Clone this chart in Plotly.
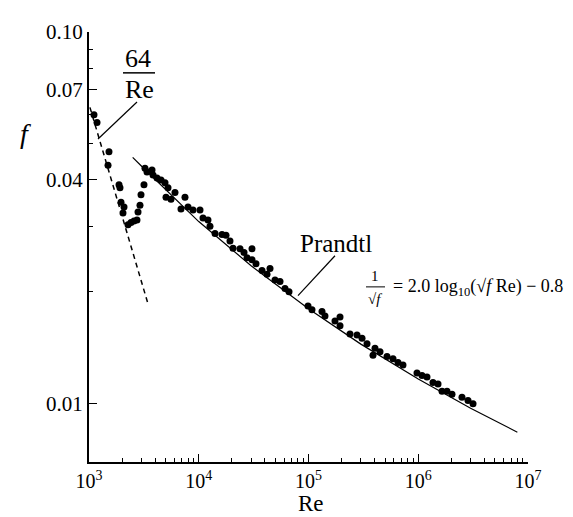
import plotly.graph_objects as go

# ---- data ----
data_re = [1110, 1183, 1521, 1490, 1877, 1916, 1957, 2084, 2040, 2267, 2413, 2570, 2737, 2796,
           2915, 2977, 3170, 3237, 3377, 3750, 3830, 4165, 4530, 4926, 5246, 6075, 7492, 5030,
           5587, 6890, 7983, 8862, 10265, 10930, 12140, 12660, 14070, 16290, 17710, 19260,
           20520, 23760, 25840, 30560, 27520, 30560, 33230, 37700, 44600, 41880, 49530, 55000,
           61080, 66430, 98950, 107600, 132700, 141300, 174300, 193700, 193700, 238800, 276700,
           307300, 341300, 403600, 387000, 448200, 519300, 588900, 654000, 726100, 974000,
           1082000, 1201000, 1362000, 1514000, 1646000, 1828000, 2030000, 2503000, 2840000,
           3155000]
data_f = [0.0599, 0.0571, 0.0476, 0.0438, 0.0388, 0.0381, 0.0348, 0.0338, 0.0326, 0.0303,
          0.0307, 0.0310, 0.0312, 0.0328, 0.0342, 0.0365, 0.0388, 0.0430, 0.0420, 0.0425,
          0.0412, 0.0405, 0.0400, 0.0393, 0.0381, 0.0370, 0.0359, 0.0359, 0.0355, 0.0334,
          0.0338, 0.0332, 0.0332, 0.0316, 0.0312, 0.0300, 0.0287, 0.0285, 0.0284, 0.0274,
          0.0262, 0.0261, 0.0255, 0.0261, 0.0247, 0.0244, 0.0238, 0.0228, 0.0231, 0.0223,
          0.0215, 0.0213, 0.0204, 0.0200, 0.0183, 0.0179, 0.0177, 0.0172, 0.0167, 0.0171,
          0.0162, 0.0154, 0.0153, 0.0150, 0.0145, 0.0141, 0.0135, 0.0138, 0.0134, 0.0132,
          0.0129, 0.0127, 0.0121, 0.0119, 0.0118, 0.0114, 0.0113, 0.0108, 0.0108, 0.0106,
          0.0104, 0.0102, 0.0100]

laminar_re = [1020, 3450]
laminar_f = [0.0627, 0.01855]

prandtl_re = [2500, 3000, 10000, 30000, 100000, 300000, 1000000, 3000000, 8000000]
prandtl_f = [0.0460, 0.0436, 0.0309, 0.0235, 0.0180, 0.01446, 0.01165, 0.00972, 0.00838]

x_tickvals = [1e3, 1e4, 1e5, 1e6, 1e7]
x_ticktext = ["10<sup>3</sup>", "10<sup>4</sup>", "10<sup>5</sup>", "10<sup>6</sup>", "10<sup>7</sup>"]
x_minor = [m * 10 ** e for e in range(3, 7) for m in range(2, 10)]
y_tickvals = [0.01, 0.04, 0.07, 0.10]
y_ticktext = ["0.01", "0.04", "0.07", "0.10"]
y_minor = [0.02, 0.03, 0.05, 0.06, 0.08, 0.09]

FONT = "Times New Roman, Liberation Serif, DejaVu Serif, serif"
OFF = 8                      # page body margin of the html
W, H = 573 - OFF, 517 - OFF
L, R, T, B = 89 - OFF, 528 - OFF, 20 - OFF, 462 - OFF


def px(x):
    return (x - OFF - L) / (R - L)


def py(y):
    return (B - (y - OFF)) / (B - T)


fig = go.Figure()
fig.add_trace(go.Scatter(x=laminar_re, y=laminar_f, mode="lines",
                         line=dict(color="black", width=1.5, dash="5px,4px"),
                         showlegend=False, hoverinfo="skip"))
fig.add_trace(go.Scatter(x=prandtl_re, y=prandtl_f, mode="lines",
                         line=dict(color="black", width=1.2),
                         showlegend=False, hoverinfo="skip"))
fig.add_trace(go.Scatter(x=data_re, y=data_f, mode="markers",
                         marker=dict(color="black", size=7),
                         showlegend=False))

fig.update_xaxes(type="log", range=[3, 7], tickvals=x_tickvals, ticktext=x_ticktext,
                 ticks="inside", ticklen=8, tickwidth=1, tickcolor="black",
                 showline=True, linecolor="black", linewidth=2, showgrid=False, zeroline=False,
                 tickfont=dict(family=FONT, size=20, color="black"),
                 minor=dict(tickvals=x_minor, ticks="inside", ticklen=4, tickcolor="black",
                            showgrid=False))
fig.update_yaxes(type="log", range=[-2.157, -1.0], tickvals=y_tickvals, ticktext=y_ticktext,
                 ticks="inside", ticklen=8, tickwidth=1, tickcolor="black",
                 showline=True, linecolor="black", linewidth=2, showgrid=False, zeroline=False,
                 tickfont=dict(family=FONT, size=21, color="black"),
                 minor=dict(tickvals=y_minor, ticks="inside", ticklen=4, tickcolor="black",
                            showgrid=False))

ann = []


def text(x, y, s, size, xanchor="center"):
    ann.append(dict(xref="paper", yref="paper", x=px(x), y=py(y), text=s, showarrow=False,
                    xanchor=xanchor, yanchor="middle",
                    font=dict(family=FONT, size=size, color="black")))


text(25, 124, "<i>f</i>", 28)
text(311, 505, "Re", 23)
text(138, 47, "64", 26)
text(139, 79, "Re", 26)
text(336, 237, "Prandtl", 25)
text(375, 271, "1", 15)
text(375, 294, "√<i>f</i>", 15)
text(391, 283, "= 2.0 log<sub>10</sub>(√<i>f</i> Re) − 0.8", 18, xanchor="left")

shapes = []


def seg(x0, y0, x1, y1, w=1.2):
    shapes.append(dict(type="line", xref="paper", yref="paper", x0=px(x0), y0=py(y0),
                       x1=px(x1), y1=py(y1), line=dict(color="black", width=w)))


seg(123, 62, 155, 62, 1.5)      # fraction bar 64/Re
seg(137, 92, 98, 130)           # leader to laminar line
seg(335, 250, 298, 291)         # leader to Prandtl line
seg(366, 282, 385, 282, 1)      # fraction bar in equation

fig.update_layout(width=W, height=H, margin=dict(l=L, r=W - R, t=T, b=H - B),
                  paper_bgcolor="white", plot_bgcolor="white",
                  annotations=ann, shapes=shapes)

fig.write_html("out.html")
